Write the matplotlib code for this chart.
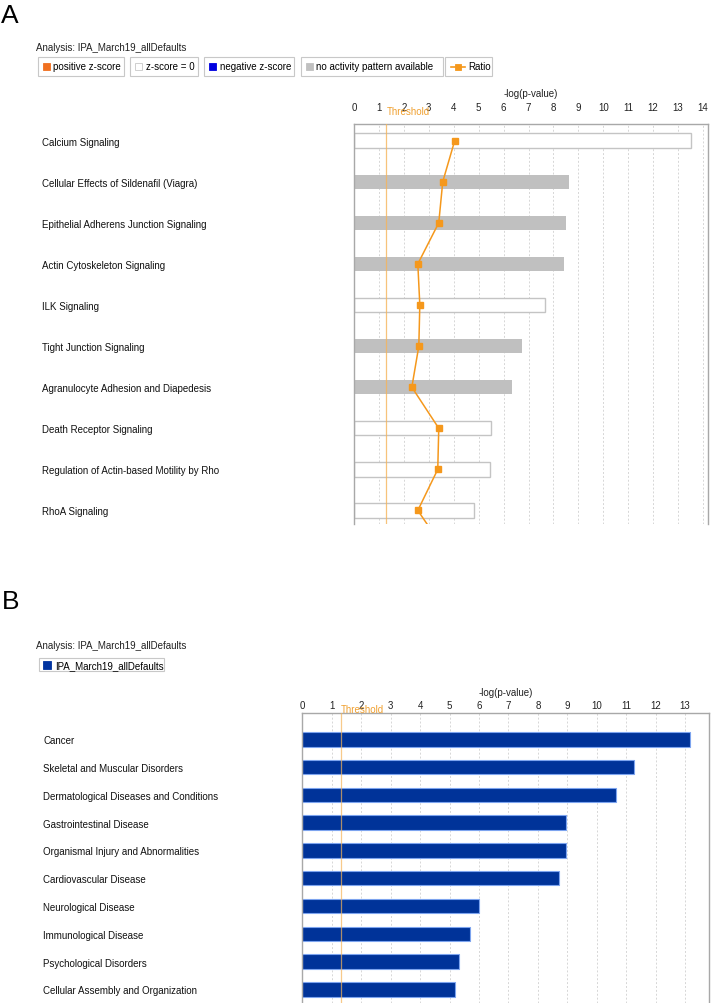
import numpy as np
import matplotlib
matplotlib.use('Agg')
import matplotlib.pyplot as plt
from matplotlib.patches import Rectangle
from matplotlib.lines import Line2D

plt.rcParams['font.family'] = ['Liberation Sans', 'DejaVu Sans']

# ---- data, panel A (canonical pathways)
pathways = ['Calcium Signaling',
            'Cellular Effects of Sildenafil (Viagra)',
            'Epithelial Adherens Junction Signaling',
            'Actin Cytoskeleton Signaling',
            'ILK Signaling',
            'Tight Junction Signaling',
            'Agranulocyte Adhesion and Diapedesis',
            'Death Receptor Signaling',
            'Regulation of Actin-based Motility by Rho',
            'RhoA Signaling']
pathway_logp = [13.5, 8.64, 8.49, 8.41, 7.66, 6.74, 6.34, 5.48, 5.44, 4.80]
# 'zero' = z-score = 0, 'na' = no activity pattern available
pathway_zscore = ['zero', 'na', 'na', 'na', 'zero', 'na', 'na', 'zero', 'zero', 'zero']
# ratio values (last one is the next, scrolled-off row)
pathway_ratio = [0.101, 0.089, 0.085, 0.064, 0.066, 0.065, 0.058, 0.085, 0.084, 0.064, 0.092]

# ---- data, panel B (diseases and disorders)
diseases = ['Cancer',
            'Skeletal and Muscular Disorders',
            'Dermatological Diseases and Conditions',
            'Gastrointestinal Disease',
            'Organismal Injury and Abnormalities',
            'Cardiovascular Disease',
            'Neurological Disease',
            'Immunological Disease',
            'Psychological Disorders',
            'Cellular Assembly and Organization']
disease_logp = [13.15, 11.26, 10.66, 8.96, 8.96, 8.73, 6.01, 5.69, 5.33, 5.19]

threshold = 1.3
analysis = 'Analysis: IPA_March19_allDefaults'

W, H = 711, 1004
fig = plt.figure(figsize=(W / 100, H / 100), dpi=100)

axcol = '#a8a8a8'
gridcol = '#d6d6d6'
thrcol = '#f5b45a'
thrtext = '#f0a030'
ratiocol = '#f5981c'
fs = 7


def fx(x):
    return x / W


def fy(y):
    return 1 - y / H


def box(x0, x1, y0, y1):
    fig.add_artist(Rectangle((fx(x0), fy(y1)), (x1 - x0) / W, (y1 - y0) / H,
                             transform=fig.transFigure, fill=False,
                             ec='#c8c8c8', lw=0.8))


def square(x0, y0, s, fc, ec=None):
    fig.add_artist(Rectangle((fx(x0), fy(y0 + s)), s / W, s / H,
                             transform=fig.transFigure, fc=fc,
                             ec=ec if ec else fc, lw=0.6))


def style_axes(ax, xmax, tickpad):
    ax.set_xlim(0, xmax)
    ax.xaxis.tick_top()
    ax.set_xticks(range(0, int(xmax) + 1))
    ax.tick_params(axis='x', length=0, pad=tickpad, labelsize=fs, colors='#222222')
    ax.tick_params(axis='y', length=0, labelsize=fs, colors='#111111')
    ax.grid(axis='x', linestyle=(0, (2, 2)), color=gridcol, lw=0.7)
    ax.set_axisbelow(True)
    for s in ['top', 'left', 'right']:
        ax.spines[s].set_color(axcol)
        ax.spines[s].set_linewidth(1.0)
    ax.spines['bottom'].set_visible(False)


# ================= panel A =================
fig.text(fx(1), fy(16), 'A', fontsize=19, va='center', ha='left')
fig.text(fx(36), fy(47.7), analysis, fontsize=fs, va='center', color='#222222')

y0, y1 = 58.3, 76.7
yc = (y0 + y1) / 2
box(38, 124, y0, y1)
square(43, yc - 3.5, 7, '#f07020')
fig.text(fx(53), fy(yc), 'positive z-score', fontsize=fs, va='center')
box(130, 198, y0, y1)
square(135, yc - 3.5, 7, 'white', '#c8c8c8')
fig.text(fx(145.5), fy(yc), 'z-score = 0', fontsize=fs, va='center')
box(204, 294, y0, y1)
square(209, yc - 3.5, 7, '#0000e0')
fig.text(fx(219.5), fy(yc), 'negative z-score', fontsize=fs, va='center')
box(301, 443, y0, y1)
square(306, yc - 3.5, 7, '#c0c0c0')
fig.text(fx(316.5), fy(yc), 'no activity pattern available', fontsize=fs, va='center')
box(445, 492, y0, y1)
fig.add_artist(Line2D([fx(451), fx(465)], [fy(yc), fy(yc)], color=ratiocol, lw=1.2,
                      transform=fig.transFigure))
square(455, yc - 3, 6, ratiocol)
fig.text(fx(468), fy(yc), 'Ratio', fontsize=fs, va='center')

axA = fig.add_axes([fx(354), fy(525), (708 - 354) / W, (525 - 125) / H])
yA = np.arange(len(pathways))
for i, (v, z) in enumerate(zip(pathway_logp, pathway_zscore)):
    if z == 'na':
        axA.barh(yA[i], v, height=0.35, color='#c0c0c0', lw=0, zorder=2)
    else:
        axA.barh(yA[i], v, height=0.35, color='white', ec='#c4c4c4', lw=1.0, zorder=2)

# ratio line on its own (hidden) x scale
axR = axA.twiny()
axR.plot(pathway_ratio, np.arange(len(pathway_ratio)), color=ratiocol, lw=1.1,
         marker='s', markersize=5, zorder=5)
axR.set_xlim(0, 0.355)
axR.set_xticks([])
for s in axR.spines.values():
    s.set_visible(False)

style_axes(axA, 14.2, 8.5)
axA.set_ylim(9.33, -0.405)
axA.set_yticks(yA, pathways)
axA.tick_params(axis='y', pad=(354 - 42) * 0.72)
for lab in axA.get_yticklabels():
    lab.set_ha('left')
axA.axvline(threshold, color=thrcol, lw=0.9, alpha=0.8, zorder=3)
axA.annotate('Threshold', xy=(threshold, 1), xycoords=('data', 'axes fraction'),
             xytext=(0, 9.5), textcoords='offset points', fontsize=fs,
             color=thrtext, ha='left', va='center', annotation_clip=False)
axA.annotate('-log(p-value)', xy=(0.5, 1), xycoords='axes fraction',
             xytext=(0, 22), textcoords='offset points', fontsize=fs,
             ha='center', va='center', color='#222222')

# ================= panel B =================
fig.text(fx(2), fy(602), 'B', fontsize=19, va='center', ha='left')
fig.text(fx(36), fy(646), analysis, fontsize=fs, va='center', color='#222222')
box(39, 164, 659.3, 672.3)
square(43, 662, 8, '#0033a0')
fig.text(fx(55), fy(666.5), 'IPA_March19_allDefaults', fontsize=fs, va='center')

axB = fig.add_axes([fx(302.3), 0, (709.3 - 302.3) / W, (1004 - 714.3) / H])
style_axes(axB, 13.82, 2.5)
yB = np.arange(len(diseases))
axB.barh(yB, disease_logp, height=0.52, color='#003399', ec='#7da4ef', lw=0.8,
         zorder=2)
axB.set_ylim(9.49, -0.935)
axB.set_yticks(yB, diseases)
axB.tick_params(axis='y', pad=(302.3 - 43) * 0.72)
for lab in axB.get_yticklabels():
    lab.set_ha('left')
axB.axvline(threshold, color=thrcol, lw=0.9, alpha=0.7, zorder=3)
axB.annotate('Threshold', xy=(threshold, 1), xycoords=('data', 'axes fraction'),
             xytext=(0, 3), textcoords='offset points', fontsize=fs,
             color=thrtext, ha='left', va='center', annotation_clip=False)
axB.annotate('-log(p-value)', xy=(0.5, 1), xycoords='axes fraction',
             xytext=(0, 15.5), textcoords='offset points', fontsize=fs,
             ha='center', va='center', color='#222222')

fig.savefig('out.png', dpi=100)
